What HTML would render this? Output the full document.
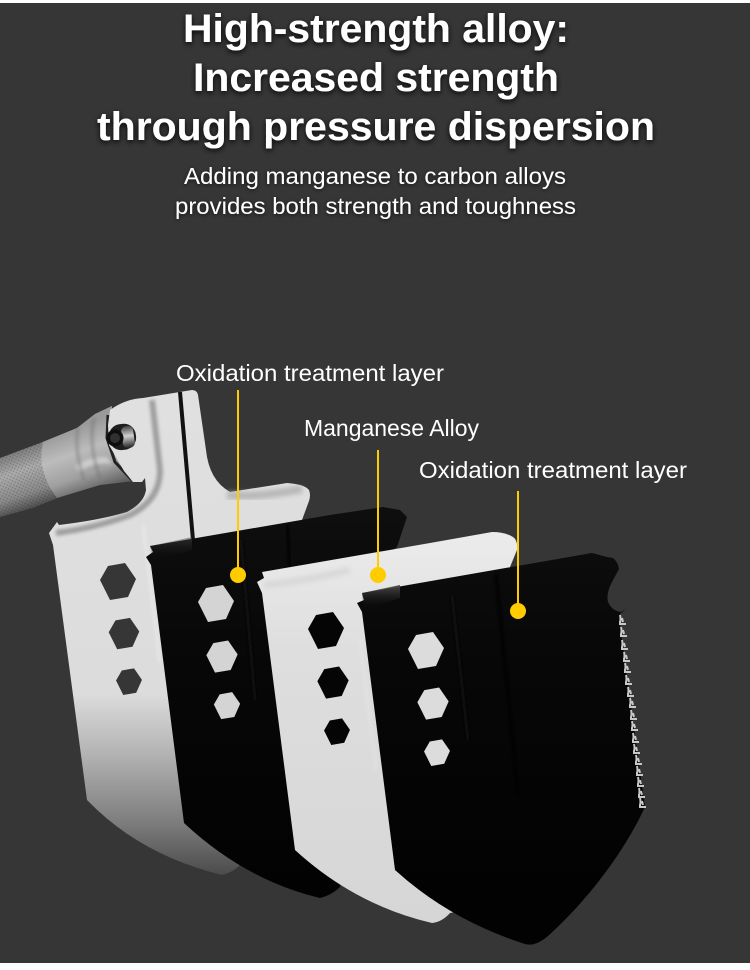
<!DOCTYPE html>
<html><head><meta charset="utf-8"><style>
html,body{margin:0;padding:0;background:#fff}
svg{display:block}
text{font-family:"Liberation Sans",sans-serif;fill:#fff}
.t{font-weight:bold;font-size:40px;filter:url(#sh)}
.s{font-size:23.5px;filter:url(#sh2)}
.l{font-size:23.5px}
</style></head><body>
<svg width="750" height="970" viewBox="0 0 750 970" xmlns="http://www.w3.org/2000/svg">
<defs>
<filter id="sh" x="-10%" y="-40%" width="120%" height="180%"><feDropShadow dx="0" dy="2" stdDeviation="3" flood-color="#000" flood-opacity=".9"/></filter>
<filter id="sh2" x="-10%" y="-40%" width="120%" height="180%"><feDropShadow dx="0" dy="1" stdDeviation="2" flood-color="#000" flood-opacity=".7"/></filter>
<filter id="b1" x="-30%" y="-30%" width="160%" height="160%"><feGaussianBlur stdDeviation="1.5"/></filter>
<filter id="b2" x="-30%" y="-60%" width="160%" height="220%"><feGaussianBlur stdDeviation="2.5"/></filter>
<linearGradient id="silver" x1="0" y1="390" x2="0" y2="880" gradientUnits="userSpaceOnUse">
<stop offset="0" stop-color="#e0e0e0"/><stop offset=".62" stop-color="#dcdcdc"/><stop offset=".74" stop-color="#b4b4b4"/><stop offset=".88" stop-color="#7e7e7e"/><stop offset="1" stop-color="#464646"/></linearGradient>
<linearGradient id="white" x1="0" y1="530" x2="0" y2="925" gradientUnits="userSpaceOnUse">
<stop offset="0" stop-color="#ececec"/><stop offset=".3" stop-color="#dedede"/><stop offset="1" stop-color="#d6d6d6"/></linearGradient>
<linearGradient id="blk" x1="0" y1="510" x2="0" y2="900" gradientUnits="userSpaceOnUse">
<stop offset="0" stop-color="#0e0e0e"/><stop offset=".4" stop-color="#070707"/><stop offset="1" stop-color="#020202"/></linearGradient>
<linearGradient id="knurl" x1="45" y1="440" x2="68" y2="505" gradientUnits="userSpaceOnUse">
<stop offset="0" stop-color="#7c7c7c"/><stop offset=".3" stop-color="#acacac"/><stop offset=".65" stop-color="#8a8a8a"/><stop offset="1" stop-color="#2c2c2c"/></linearGradient>
<linearGradient id="collar" x1="75" y1="428" x2="98" y2="492" gradientUnits="userSpaceOnUse">
<stop offset="0" stop-color="#9a9a9a"/><stop offset=".35" stop-color="#bcbcbc"/><stop offset=".7" stop-color="#a0a0a0"/><stop offset="1" stop-color="#5c5c5c"/></linearGradient>
<linearGradient id="strip" x1="0" y1="0" x2="0" y2="1">
<stop offset="0" stop-color="#4c4c4c"/><stop offset="1" stop-color="#080808" stop-opacity="0"/></linearGradient>
<linearGradient id="boltg" x1="0" y1="0" x2="0" y2="1">
<stop offset="0" stop-color="#444"/><stop offset=".45" stop-color="#cfcfcf"/><stop offset="1" stop-color="#222"/></linearGradient>
<pattern id="kp" width="3" height="3" patternUnits="userSpaceOnUse" patternTransform="rotate(25)">
<circle cx="1.5" cy="1.5" r=".8" fill="#000" opacity=".22"/></pattern>
<polygon id="hex" points="-18,-2 -10,-16 7,-19 18,-3 10,15 -8,18"/>
<path id="tooth" d="M-2,-5 Q-1,-1 -2,2 L-2,4 L4,4 M0,-2 L1,2" fill="none" stroke="#c8c8c8" stroke-width="2"/>
</defs>

<rect width="750" height="970" fill="#fff"/>
<rect y="3" width="750" height="960" fill="#363636"/>

<!-- handle -->
<path d="M0,458 L40,443 L77,428 L95,414 L112,406 L112,450 L134,481 L100,485 L60,497 L33,508 L0,517Z" fill="url(#knurl)"/>
<path d="M0,458 L43,442 L47,485 L57,498 L33,508 L0,517Z" fill="url(#kp)"/>
<path d="M43,442 L77,428 L95,414 L112,406 L112,450 L134,481 L100,485 L57,498 Q36,470 43,442Z" fill="url(#collar)"/>
<path d="M75,466 Q90,456 107,457 L112,464 Q92,462 80,472Z" fill="#d6d6d6" opacity=".75" filter="url(#b1)"/>
<path d="M78,428 Q74,450 84,480 M94,418 Q88,445 100,478" stroke="#6c6c6c" stroke-width="3" fill="none" opacity=".45" filter="url(#b1)"/>
<path d="M108,415 L107,438 L115,462 L132,480" stroke="#222" stroke-width="3" fill="none"/>

<!-- silver blade -->
<path d="M110,410 Q125,399 143,398 L192,390 Q197,390 198,395 L206,450 Q209,480 230,492 L287,483 Q304,484 309,490 Q311,495 309,501 L302,520 L340,885 L240,865 Q232,873 222,875 Q140,855 87,800 L53,545 L49,533 L57,522 L59,525 Q100,520 127,512 Q144,503 146,490 L145,478 L142,482 L133,482 L124,471 L109,445 L108,425Z" fill="url(#silver)"/>
<path d="M152,400 L160,470 Q160,500 130,515 Q95,528 56,533" stroke="#8a8a8a" stroke-width="6" fill="none" filter="url(#b1)" opacity=".75"/>
<path d="M227,495 Q255,498 302,489" stroke="#aaa" stroke-width="8" fill="none" filter="url(#b2)" opacity=".75"/>
<path d="M180,392 L193,540" stroke="#111" stroke-width="4" fill="none"/>
<path d="M143,525 L160,662" stroke="#fff" stroke-width="2" fill="none" opacity=".4" filter="url(#b1)"/>
<!-- bolt -->
<rect x="109" y="424" width="27" height="26" rx="12" fill="#1e1e1e" transform="rotate(-8 122 437)"/>
<rect x="122" y="426" width="12" height="22" rx="5" fill="url(#boltg)" transform="rotate(-8 128 437)"/>
<circle cx="115" cy="438" r="8.5" fill="#0e0e0e"/>
<circle cx="115" cy="438" r="5" fill="#303030"/>
<!-- silver holes -->
<g fill="#363636">
<use href="#hex" transform="translate(118,582)"/>
<use href="#hex" transform="translate(124,634) scale(.85)"/>
<use href="#hex" transform="translate(129,682) scale(.72)"/>
</g>

<!-- black blade 1 -->
<path d="M150,546 L153,552 L146,557 L151,565 L184,823 Q245,880 320,898 Q332,895 340,887 L345,870 L340,590 L397,547 L407,517 L400,510 L383,507 L330,515Z" fill="url(#blk)"/>
<path d="M150,546 L192,537 L192,550 L153,562Z" fill="url(#strip)" opacity=".5"/>
<path d="M287,525 L290,570" stroke="#000" stroke-width="3" filter="url(#b1)"/>
<path d="M241,540 L255,700" stroke="#0d0d0d" stroke-width="3" filter="url(#b1)" fill="none"/>
<g fill="#d4d4d4">
<use href="#hex" transform="translate(216,604)"/>
<use href="#hex" transform="translate(222,657) scale(.87)"/>
<use href="#hex" transform="translate(227,706) scale(.73)"/>
</g>

<!-- white blade 2 -->
<path d="M262,572 L264,578 L257,582 L262,593 L295,850 Q355,905 432,923 Q442,922 450,913 L520,900 L510,567 L517,550 Q518,540 513,537 Q505,532 492,532 L430,543Z" fill="url(#white)"/>
<path d="M264,585 Q300,582 350,570" stroke="#cfcfcf" stroke-width="7" fill="none" filter="url(#b2)" opacity=".6"/>
<path d="M360,640 L376,770" stroke="#efefef" stroke-width="2" opacity=".4" filter="url(#b1)" fill="none"/>
<g fill="#050505">
<use href="#hex" transform="translate(326,631)"/>
<use href="#hex" transform="translate(333,683) scale(.87)"/>
<use href="#hex" transform="translate(337,732) scale(.72)"/>
</g>

<!-- black blade 3 -->
<path d="M362,593 L364,600 L357,603 L362,612 L395,870 Q450,920 525,944 Q535,947 548,936 C590,898 625,850 645,807 L620,625 L620,614 L626,609 L621,612 Q612,611 608,602 Q606,593 612,582 L619,569 Q618,562 613,558 L607,557 L592,553Z" fill="url(#blk)"/>
<path d="M362,593 L400,585 L400,598 L364,610Z" fill="url(#strip)"/>
<path d="M496,574 L518,795" stroke="#000" stroke-width="3" filter="url(#b1)" fill="none"/>
<path d="M452,595 L468,740" stroke="#0c0c0c" stroke-width="3" filter="url(#b1)" fill="none"/>
<g fill="#dcdcdc">
<use href="#hex" transform="translate(426,651)"/>
<use href="#hex" transform="translate(433,704) scale(.87)"/>
<use href="#hex" transform="translate(437,753) scale(.72)"/>
</g>
<!-- teeth -->
<use href="#tooth" transform="translate(622,620)"/>
<use href="#tooth" transform="translate(623,632)"/>
<use href="#tooth" transform="translate(624,645)"/>
<use href="#tooth" transform="translate(626,657)"/>
<use href="#tooth" transform="translate(627,668)"/>
<use href="#tooth" transform="translate(628,680)"/>
<use href="#tooth" transform="translate(630,692)"/>
<use href="#tooth" transform="translate(632,703)"/>
<use href="#tooth" transform="translate(633,715)"/>
<use href="#tooth" transform="translate(634,726)"/>
<use href="#tooth" transform="translate(635,738)"/>
<use href="#tooth" transform="translate(636,749)"/>
<use href="#tooth" transform="translate(638,760)"/>
<use href="#tooth" transform="translate(639,771)"/>
<use href="#tooth" transform="translate(640,782)"/>
<use href="#tooth" transform="translate(641,793)"/>
<use href="#tooth" transform="translate(642,803)"/>

<!-- leader lines -->
<g stroke="#ffcc00" stroke-width="2" fill="#ffcc00">
<line x1="238" y1="390" x2="238" y2="575"/>
<line x1="378" y1="450" x2="378" y2="575"/>
<line x1="518" y1="491" x2="518" y2="611"/>
</g>
<g fill="#ffcc00">
<circle cx="238" cy="575" r="8"/>
<circle cx="378" cy="575" r="8"/>
<circle cx="518" cy="611" r="8"/>
</g>

<!-- text -->
<text class="t" x="183" y="42" textLength="386" lengthAdjust="spacingAndGlyphs">High-strength alloy:</text>
<text class="t" x="193" y="91" textLength="366" lengthAdjust="spacingAndGlyphs">Increased strength</text>
<text class="t" x="97" y="140" textLength="558" lengthAdjust="spacingAndGlyphs">through pressure dispersion</text>
<text class="s" x="184" y="184" textLength="382" lengthAdjust="spacingAndGlyphs">Adding manganese to carbon alloys</text>
<text class="s" x="175" y="214" textLength="401" lengthAdjust="spacingAndGlyphs">provides both strength and toughness</text>
<text class="l" x="176" y="381" textLength="268" lengthAdjust="spacingAndGlyphs">Oxidation treatment layer</text>
<text class="l" x="304" y="436" textLength="175" lengthAdjust="spacingAndGlyphs">Manganese Alloy</text>
<text class="l" x="419" y="478" textLength="268" lengthAdjust="spacingAndGlyphs">Oxidation treatment layer</text>
</svg>
</body></html>
